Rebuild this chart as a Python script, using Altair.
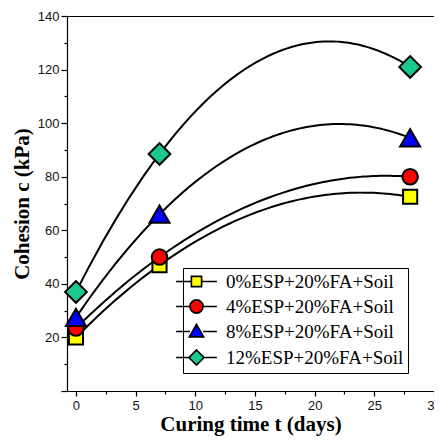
import altair as alt
import pandas as pd

days = [0, 7, 28]
series_names = ["0%ESP+20%FA+Soil", "4%ESP+20%FA+Soil", "8%ESP+20%FA+Soil", "12%ESP+20%FA+Soil"]
c_0 = [20.0, 47.0, 72.5]
c_4 = [23.5, 50.0, 80.0]
c_8 = [27.5, 66.0, 94.5]
c_12 = [37.0, 88.5, 121.0]

fills = ["#FFFF00", "#FF0000", "#0000FF", "#19C98B"]
shapes = ["square", "circle", "triangle-up", "diamond"]
sizes = [200, 240, 400, 470]
legend_shapes = [
    "M-3.4,0H-0.85M0.85,0H3.4M-0.85,-0.85H0.85V0.85H-0.85Z",
    "M-3.4,0H-1.1M1.1,0H3.4M1.1,0A1.1,1.1 0 1,1 -1.1,0A1.1,1.1 0 1,1 1.1,0Z",
    "M-3.4,0H-1.1M1.1,0H3.4M0,-1.2L1.2,0.9H-1.2Z",
    "M-3.4,0H-1.25M1.25,0H3.4M0,-1.25L1.25,0L0,1.25L-1.25,0Z",
]

rows = []
for name, vals in zip(series_names, [c_0, c_4, c_8, c_12]):
    for d, v in zip(days, vals):
        rows.append({"t": d, "c": v, "series": name})
df = pd.DataFrame(rows)

x_ticks = [i * 2.5 for i in range(13)]
y_ticks = [i * 10 for i in range(15)]

x_enc = alt.X(
    "t:Q",
    scale=alt.Scale(domain=[-0.75, 30], nice=False, zero=False),
    axis=alt.Axis(
        values=x_ticks,
        labelExpr="datum.value % 5 === 0 ? datum.label : ''",
        tickSize={"condition": {"test": "datum.value % 5 === 0", "value": 5}, "value": 3},
        title="Curing time t (days)",
        grid=False,
        labelFlush=False,
        labelPadding=3,
        titlePadding=1,
    ),
)
y_enc = alt.Y(
    "c:Q",
    scale=alt.Scale(domain=[0, 140], nice=False),
    axis=alt.Axis(
        values=y_ticks,
        labelExpr="(datum.value % 20 === 0 && datum.value > 0) ? datum.label : ''",
        tickSize={"condition": {"test": "datum.value % 20 === 0", "value": 6}, "value": 3},
        title="Cohesion c (kPa)",
        grid=False,
        labelFlush=False,
        labelPadding=2,
        titlePadding=5,
    ),
)

base = alt.Chart(df)

curves = (
    base.transform_regression("t", "c", groupby=["series"], method="poly", order=2)
    .mark_line(color="black", strokeWidth=2)
    .encode(x=x_enc, y=y_enc, detail="series:N")
)

marker_layers = []
for name, shp, fc, sz in zip(series_names, shapes, fills, sizes):
    marker_layers.append(
        base.transform_filter(alt.datum.series == name)
        .mark_point(shape=shp, fill=fc, filled=True, size=sz, stroke="black", strokeWidth=2, opacity=1)
        .encode(x=x_enc, y=y_enc)
    )

leg = alt.Legend(title=None)
legend_layer = (
    base.transform_filter("false")
    .mark_point(filled=True, strokeWidth=1.6, opacity=1)
    .encode(
        x=x_enc,
        y=y_enc,
        shape=alt.Shape("series:N", scale=alt.Scale(domain=series_names, range=legend_shapes), legend=leg),
        fill=alt.Fill("series:N", scale=alt.Scale(domain=series_names, range=fills), legend=leg),
        stroke=alt.Stroke("series:N", scale=alt.Scale(domain=series_names, range=["black"] * 4), legend=leg),
    )
)

chart = (
    alt.layer(curves, *marker_layers, legend_layer)
    .properties(
        width=367,
        height=375,
        autosize=alt.AutoSizeParams(type="none"),
        padding={"left": 59, "top": 8, "right": 0, "bottom": 47},
    )
    .configure_view(stroke="black", strokeWidth=1)
    .configure_axis(
        domainColor="black",
        domainWidth=1.2,
        tickColor="black",
        tickWidth=1.2,
        labelFont="Liberation Sans",
        labelFontSize=13,
        labelColor="#111111",
        titleFont="Liberation Serif",
        titleFontSize=21,
        titleFontWeight="bold",
        titleColor="black",
    )
    .configure_legend(
        orient="none",
        legendX=116,
        legendY=252,
        strokeColor="black",
        fillColor="white",
        padding=4,
        cornerRadius=0,
        labelFont="Liberation Serif",
        labelFontSize=19,
        labelColor="black",
        labelLimit=400,
        symbolSize=144,
        symbolStrokeWidth=1.6,
        symbolOpacity=1,
        labelOffset=20,
        rowPadding=4,
    )
)

chart.save("out.html", embed_options={"renderer": "svg", "actions": False})
